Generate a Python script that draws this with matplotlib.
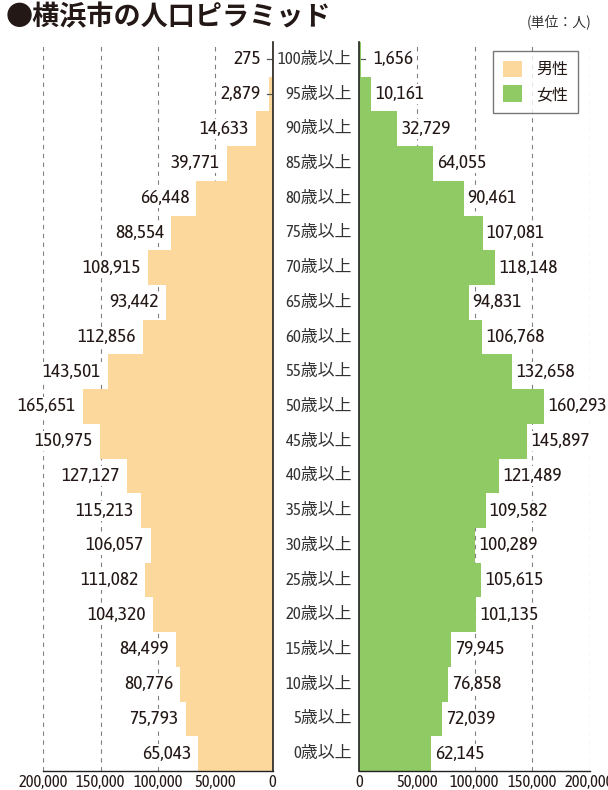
import matplotlib
matplotlib.use("Agg")
import matplotlib.pyplot as plt
from matplotlib.patches import Patch
from matplotlib import font_manager

ages = ['100歳以上', '95歳以上', '90歳以上', '85歳以上', '80歳以上', '75歳以上', '70歳以上',
        '65歳以上', '60歳以上', '55歳以上', '50歳以上', '45歳以上', '40歳以上', '35歳以上',
        '30歳以上', '25歳以上', '20歳以上', '15歳以上', '10歳以上', '5歳以上', '0歳以上']
male = [275, 2879, 14633, 39771, 66448, 88554, 108915, 93442, 112856, 143501, 165651,
        150975, 127127, 115213, 106057, 111082, 104320, 84499, 80776, 75793, 65043]
female = [1656, 10161, 32729, 64055, 90461, 107081, 118148, 94831, 106768, 132658, 160293,
          145897, 121489, 109582, 100289, 105615, 101135, 79945, 76858, 72039, 62145]
xticks = [0, 50000, 100000, 150000, 200000]
xticklabels = ['0', '50,000', '100,000', '150,000', '200,000']

names = {f.name for f in font_manager.fontManager.ttflist}
narrow = 'Asap Condensed' if 'Asap Condensed' in names else 'DejaVu Sans'
NUM = [narrow, 'Noto Sans CJK JP']
JP = ['Noto Sans CJK JP', 'DejaVu Sans']
plt.rcParams['font.family'] = JP

MALE_C = '#FCD89C'
FEMALE_C = '#8FCA64'
TXT = '#231815'

W, H = 608, 790
fig = plt.figure(figsize=(W / 100, H / 100), dpi=100)

def frac(x0, x1, ytop, ybot):
    return [x0 / W, 1 - ybot / H, (x1 - x0) / W, (ybot - ytop) / H]

axL = fig.add_axes(frac(43.3, 272.7, 42, 771))
axR = fig.add_axes(frac(359.3, 589.7, 42, 771))

n = len(ages)
ypos = [n - 1 - i for i in range(n)]
PX = 200000 / 229.4  # data units per pixel

for ax, vals, col, side in ((axL, male, MALE_C, -1), (axR, female, FEMALE_C, 1)):
    ax.set_xlim(0, 200000)
    ax.set_ylim(-0.5, n - 0.5)
    for g in xticks[1:]:
        ax.axvline(g, color='#808080', lw=0.8, ls=(0, (4, 4)), zorder=0)
    ax.barh(ypos, vals, height=1.0, color=col, edgecolor='none', zorder=1)
    for y, v in zip(ypos, vals):
        lab = f'{v:,}'
        if v < 5000:
            ax.plot([2 * PX, 6 * PX], [y, y], color='#555555', lw=0.9, zorder=3)
            off = 6 if side > 0 else 4
            ax.annotate(lab, (max(v, 6 * PX), y), xytext=(side * off, 0), textcoords='offset points',
                        ha='left' if side > 0 else 'right', va='center', fontsize=14,
                        family=NUM, color=TXT, zorder=4)
        else:
            ax.annotate(lab, (v, y), xytext=(side * (3 if side > 0 else 5), 0),
                        textcoords='offset points',
                        ha='left' if side > 0 else 'right', va='center', fontsize=14,
                        family=NUM, color=TXT, zorder=4,
                        bbox=dict(boxstyle='square,pad=0.05', fc='white', ec='none'))
    ax.set_yticks([])
    ax.set_xticks(xticks)
    ax.set_xticklabels(xticklabels, family=NUM, fontsize=12, color=TXT)
    ax.tick_params(axis='x', length=0, pad=2)
    for s in ax.spines.values():
        s.set_visible(False)
    ax.spines['bottom'].set_visible(True)
    ax.spines['bottom'].set_color('#222222')
    ax.spines['bottom'].set_linewidth(1.0)

axL.invert_xaxis()
axL.spines['right'].set_visible(True)
axL.spines['right'].set_color('#222222')
axL.spines['right'].set_linewidth(1.2)
axR.spines['left'].set_visible(True)
axR.spines['left'].set_color('#222222')
axR.spines['left'].set_linewidth(1.2)

# center age labels
fig.canvas.draw()
for y, a in zip(ypos, ages):
    yy = axL.transData.transform((0, y))[1]
    fig.text(352 / W, yy / H, a, ha='right', va='center', fontsize=12.2,
             family=NUM, color='#333333')

fig.text(6 / W, 1 - 17 / H, '●横浜市の人口ピラミッド', ha='left', va='center',
         fontsize=19.5, fontweight='bold', family=JP, color=TXT)
fig.text(592 / W, 1 - 22 / H, '(単位：人)', ha='right', va='center', fontsize=10,
         family=JP, color='#333333')

handles = [Patch(facecolor=MALE_C, edgecolor='none'), Patch(facecolor=FEMALE_C, edgecolor='none')]
leg = fig.legend(handles, ['男性', '女性'], loc='upper right',
                 bbox_to_anchor=(578 / W, 1 - 51 / H), frameon=True, fancybox=False,
                 edgecolor='#555555', handlelength=1.2, handleheight=1.2, fontsize=11.5,
                 borderpad=0.6, labelspacing=0.45, handletextpad=0.9, borderaxespad=0)
leg.get_frame().set_linewidth(1.0)
for t in leg.get_texts():
    t.set_color(TXT)

fig.savefig('out.png', dpi=100)
